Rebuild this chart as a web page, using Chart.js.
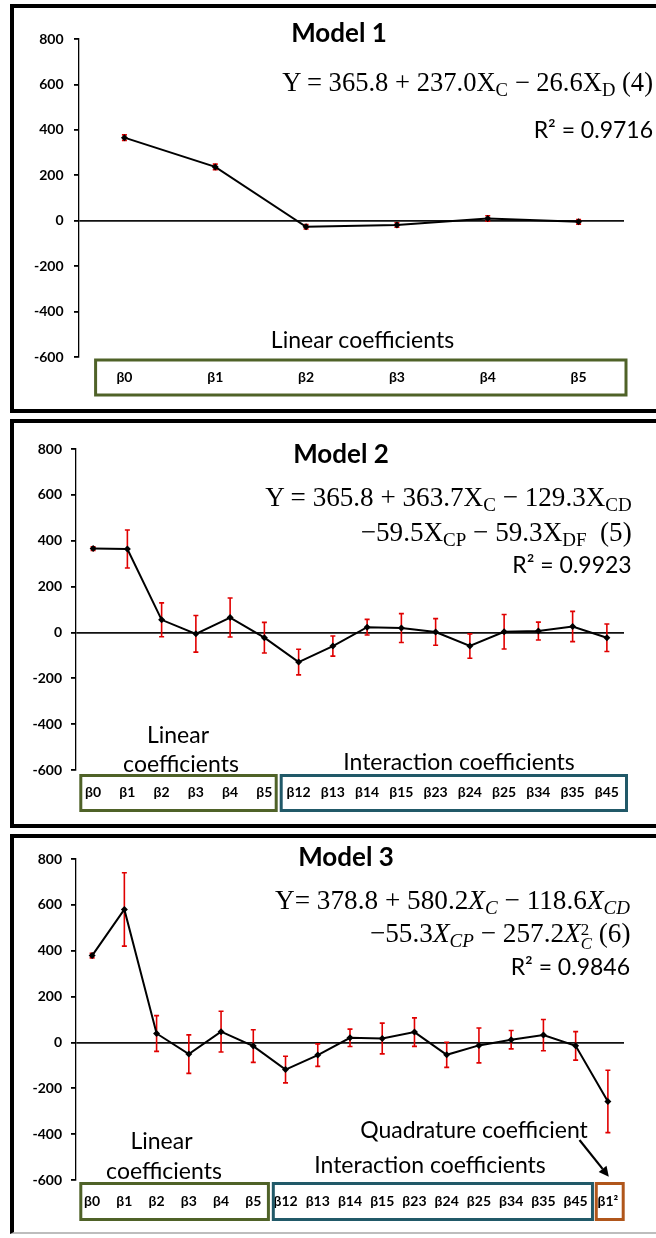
<!DOCTYPE html>
<html><head><meta charset="utf-8">
<script src="https://cdn.jsdelivr.net/npm/chart.js@4/dist/chart.umd.min.js"></script>
<style>
html,body{margin:0;padding:0;background:#fff;}
body{width:656px;height:1238px;position:relative;overflow:hidden;font-family:Lato,sans-serif;color:#000;}
.panel{position:absolute;left:10px;width:700px;border:4px solid #000;box-sizing:border-box;}
canvas{position:absolute;left:0;}
.t{position:absolute;white-space:nowrap;line-height:1;}
.title{font-weight:bold;font-size:26px;}
.lab{font-size:23px;}
.eq{font-family:'Liberation Serif',serif;font-size:25px;}
.eq sub{font-size:0.7em;vertical-align:-0.25em;line-height:0;}
.ss{display:inline-block;font-size:0.62em;line-height:0.85;vertical-align:-0.42em;text-align:left;}
</style></head>
<body>
<div class="panel" style="top:4px;height:409px;"></div>
<div class="panel" style="top:419px;height:409px;"></div>
<div class="panel" style="top:834px;height:400px;border-bottom:2px solid #bdbdbd;"></div>
<canvas id="c1" width="656" height="412" style="top:0px"></canvas>
<canvas id="c2" width="656" height="416" style="top:412px"></canvas>
<canvas id="c3" width="656" height="410" style="top:828px"></canvas>
<svg width="656" height="1238" style="position:absolute;left:0;top:0;pointer-events:none">
  <line x1="579.5" y1="1140" x2="602.6" y2="1168.9" stroke="#000" stroke-width="2.2"/>
  <polygon points="608.8,1176.7 598.7,1172.0 606.5,1165.8" fill="#000"/>
</svg>
<div id="txt"></div>
<script>
// ---------- data ----------
const labels1 = ['β0','β1','β2','β3','β4','β5'];
const model1Values = [365.8, 237.0, -26.6, -19, 10, -5];
const model1Errors = [12, 12, 10, 10, 12, 10];

const labels2 = ['β0','β1','β2','β3','β4','β5','β12','β13','β14','β15','β23','β24','β25','β34','β35','β45'];
const model2Values = [365.8, 363.7, 55, -6, 65, -23, -129.3, -59.5, 23, 19, 2, -59.3, 3, 6, 26, -23];
const model2Errors = [8, 83, 74, 80, 85, 67, 56, 44, 34, 63, 58, 53, 75, 39, 66, 60];

const labels3 = ['β0','β1','β2','β3','β4','β5','β12','β13','β14','β15','β23','β24','β25','β34','β35','β45','β1²'];
const model3Values = [378.8, 580.2, 39, -51, 47, -16, -118.6, -55.3, 20, 17, 45, -54, -13, 12, 32, -15, -257.2];
const model3Errors = [10, 160, 78, 84, 89, 71, 58, 49, 38, 67, 62, 55, 76, 40, 68, 62, 136];

const yMin = -600, yMax = 800, yStep = 200;

// ---------- plugins ----------
const errorBarPlugin = {
  id:'errorBars',
  beforeDatasetsDraw(chart, args, opts){
    const {ctx, scales:{x,y}} = chart;
    const vals = chart.data.datasets[0].data;
    ctx.save(); ctx.strokeStyle = opts.color; ctx.lineWidth = opts.width;
    vals.forEach((v,i)=>{
      const e = opts.errors[i]; const px = x.getPixelForValue(i);
      const t = y.getPixelForValue(v+e), b = y.getPixelForValue(v-e);
      ctx.beginPath(); ctx.moveTo(px,t); ctx.lineTo(px,b);
      ctx.moveTo(px-opts.cap,t); ctx.lineTo(px+opts.cap,t);
      ctx.moveTo(px-opts.cap,b); ctx.lineTo(px+opts.cap,b); ctx.stroke();
    });
    ctx.restore();
  }
};
const groupBoxPlugin = {
  id:'groupBoxes',
  afterDraw(chart, args, opts){
    const {ctx, scales:{x}, chartArea} = chart;
    const step = x.getPixelForValue(1) - x.getPixelForValue(0);
    ctx.save(); ctx.lineWidth = opts.width;
    opts.boxes.forEach(bx=>{
      const l = x.getPixelForValue(bx.from) - step/2 + bx.dl;
      const r = x.getPixelForValue(bx.to) + step/2 + bx.dr;
      const t = chartArea.bottom + opts.top, b = chartArea.bottom + opts.bottom;
      ctx.strokeStyle = bx.color;
      ctx.strokeRect(l, t, r-l, b-t);
    });
    ctx.restore();
  }
};

const GREEN = '#4f6228', TEAL = '#215968', ORANGE = '#b0561b';
Chart.defaults.font.family = 'Lato';

function makeChart(id, labels, values, errors, cfg){
  return new Chart(document.getElementById(id), {
    type:'line',
    data:{labels, datasets:[{data:values, borderColor:'#000', borderWidth:2,
      pointStyle:'rectRot', pointRadius:3.5, pointBackgroundColor:'#000', pointBorderColor:'#000',
      pointBorderWidth:0, tension:0, clip:false}]},
    plugins:[errorBarPlugin, groupBoxPlugin],
    options:{
      responsive:false, animation:false, devicePixelRatio:1,
      layout:{padding:{top:cfg.padTop, right:cfg.padRight, left:0, bottom:0}},
      plugins:{legend:{display:false}, tooltip:{enabled:false},
        errorBars:{errors, color:'#e00000', width:1.6, cap:2.5},
        groupBoxes:{boxes:cfg.boxes, top:cfg.boxTop, bottom:cfg.boxBottom, width:3}},
      scales:{
        x:{type:'category', offset:true,
           grid:{display:false, drawTicks:false}, border:{display:false},
           ticks:{font:{family:'Lato', weight:'bold', size:14}, color:'#000', padding:cfg.xPad,
                  autoSkip:false, maxRotation:0, minRotation:0},
           afterFit:s=>{s.height = cfg.xHeight;}},
        y:{min:yMin, max:yMax,
           ticks:{stepSize:yStep, font:{family:'Lato', weight:'bold', size:14}, color:'#000', padding:cfg.yPad},
           grid:{color:c=> (c.tick && c.tick.value===0) ? '#111' : 'rgba(0,0,0,0)',
                 lineWidth:1.8, tickColor:'#000', tickLength:5, drawTicks:true},
           border:{display:true, color:'#000', width:1.3},
           afterFit:s=>{s.width = cfg.yWidth;}}
      }
    }
  });
}

makeChart('c1', labels1, model1Values, model1Errors, {
  padTop:39, padRight:32, yWidth:79, xHeight:55, xPad:12.5, yPad:10.5,
  boxTop:3, boxBottom:38,
  boxes:[{from:0,to:5,color:GREEN,dl:16.6,dr:2}]
});
makeChart('c2', labels2, model2Values, model2Errors, {
  padTop:37, padRight:32, yWidth:76, xHeight:58, xPad:14.5, yPad:9,
  boxTop:5.5, boxBottom:40.5,
  boxes:[{from:0,to:5,color:GREEN,dl:4.8,dr:-5.3},{from:6,to:15,color:TEAL,dl:-0.3,dr:2.5}]
});
makeChart('c3', labels3, model3Values, model3Errors, {
  padTop:31, padRight:32, yWidth:76, xHeight:58, xPad:13.5, yPad:9,
  boxTop:3.5, boxBottom:39.5,
  boxes:[{from:0,to:5,color:GREEN,dl:4.8,dr:-1},{from:6,to:15,color:TEAL,dl:3.9,dr:0.7},{from:16,to:16,color:ORANGE,dl:4.5,dr:-0.8}]
});

// ---------- text annotations ----------
const X = s=>'X<sub>'+s+'</sub>';
const XI = s=>'<i>X</i><sub><i>'+s+'</i></sub>';
const texts = [
  {id:'m1', html:'Model 1', cls:'title', cx:339, cy:33},
  {id:'e1', html:'Y = 365.8 + 237.0'+X('C')+' − 26.6'+X('D')+' (4)', cls:'eq', rx:653, cy:83, fitW:371},
  {id:'r1', html:'R² = 0.9716', cls:'lab', rx:653, cy:130},
  {id:'l1', html:'Linear coefficients', cls:'lab', cx:362.5, cy:340},

  {id:'m2', html:'Model 2', cls:'title', cx:341, cy:453.5},
  {id:'e2a', html:'Y = 365.8 + 363.7'+X('C')+' − 129.3'+X('CD'), cls:'eq', rx:631.7, cy:497.5, fitW:366.7},
  {id:'e2b', html:'−59.5'+X('CP')+' − 59.3'+X('DF')+'&nbsp; (5)', cls:'eq', rx:631.7, cy:532.5, sizeFrom:'e2a'},
  {id:'r2', html:'R² = 0.9923', cls:'lab', rx:631.7, cy:565},
  {id:'l2a', html:'Linear', cls:'lab', cx:178, cy:735},
  {id:'l2b', html:'coefficients', cls:'lab', cx:181, cy:764},
  {id:'i2', html:'Interaction coefficients', cls:'lab', cx:459, cy:762},

  {id:'m3', html:'Model 3', cls:'title', cx:346, cy:857},
  {id:'e3a', html:'Y= 378.8 + 580.2'+XI('C')+' − 118.6'+XI('CD'), cls:'eq', rx:630, cy:900.8, fitW:355},
  {id:'e3b', html:'−55.3'+XI('CP')+' − 257.2<i>X</i><span class="ss">2<br><i>C</i></span> (6)', cls:'eq', rx:630.5, cy:934, sizeFrom:'e3a'},
  {id:'r3', html:'R² = 0.9846', cls:'lab', rx:630, cy:967.5},
  {id:'q3', html:'Quadrature coefficient', cls:'lab', cx:474, cy:1130.5},
  {id:'l3a', html:'Linear', cls:'lab', cx:161.5, cy:1141},
  {id:'l3b', html:'coefficients', cls:'lab', cx:164, cy:1171},
  {id:'i3', html:'Interaction coefficients', cls:'lab', cx:430, cy:1165}
];
const host = document.getElementById('txt');
const made = {};
texts.forEach(t=>{
  const d = document.createElement('div');
  d.className = 't '+t.cls; d.innerHTML = t.html; host.appendChild(d);
  made[t.id] = d;
  if (t.fitW){
    const w = d.getBoundingClientRect().width;
    const fs = parseFloat(getComputedStyle(d).fontSize);
    d.style.fontSize = (fs*t.fitW/w)+'px';
  }
  if (t.sizeFrom){ d.style.fontSize = made[t.sizeFrom].style.fontSize; }
  const F = parseFloat(getComputedStyle(d).fontSize);
  const k = t.cls==='eq' ? 0.51 : 0.525;
  d.style.top = (t.cy - k*F)+'px';
  if (t.rx!==undefined){ d.style.right = (656 - t.rx)+'px'; }
  else { const w = d.getBoundingClientRect().width; d.style.left = (t.cx - w/2)+'px'; }
});
</script>
</body></html>
